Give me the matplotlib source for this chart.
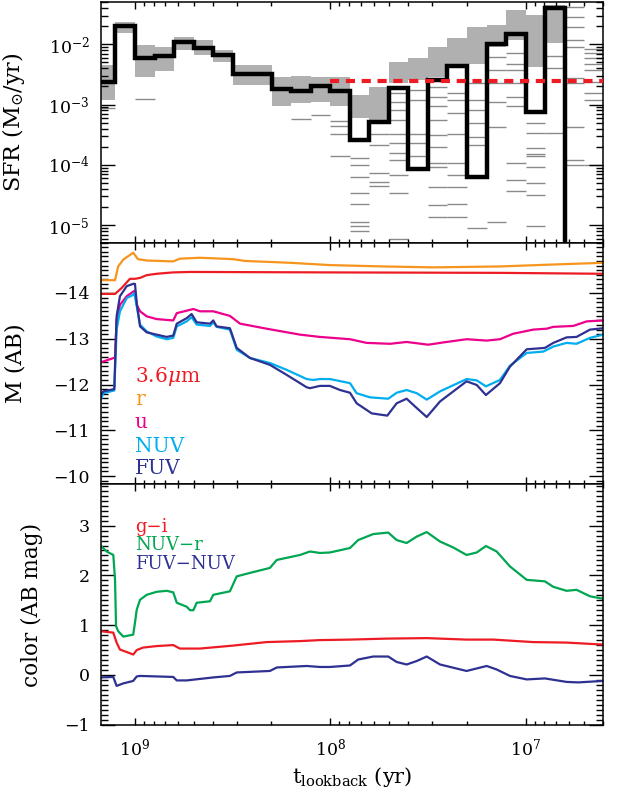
import matplotlib
matplotlib.use('Agg')
import matplotlib.pyplot as plt
from matplotlib.ticker import MultipleLocator, FixedLocator, LogLocator, NullFormatter
import numpy as np

plt.rcParams['font.family'] = ['DejaVu Serif']
plt.rcParams['mathtext.fontset'] = 'dejavuserif'

# ---- top panel: SFR history (log10 age bin edges, yr) ----
log_age_edges = [9.2, 9.1, 9.0, 8.9, 8.8, 8.7, 8.6, 8.5, 8.4, 8.3, 8.2, 8.1, 8.0,
                 7.9, 7.8, 7.7, 7.6, 7.5, 7.4, 7.3, 7.2, 7.1, 7.0, 6.9, 6.8, 6.7, 6.6]
sfr_best = [2.4e-3, 2.0e-2, 5.9e-3, 6.4e-3, 1.1e-2, 8.8e-3, 6.6e-3, 3.2e-3, 3.2e-3,
            1.8e-3, 1.7e-3, 2.0e-3, 1.7e-3, 2.6e-4, 5.2e-4, 1.9e-3, 8.7e-5, 2.6e-3,
            4.4e-3, 6.3e-5, 1.0e-2, 1.5e-2, 7.6e-4, 4.0e-2, 0.0, 0.0]
# dense range of the realisations (log10 SFR), None where sparse
band_lo = [-2.92, -1.82, -2.54, -2.45, -2.09, -2.18, -2.29, -2.67, -2.67, -3.03, -2.97,
           -2.95, -3.03, -3.22, -3.26, -2.65, -2.59, -2.54, -2.37, -2.32, -2.04, -1.93,
           -2.37, -1.98, None, None]
band_hi = [-2.34, -1.63, -2.01, -2.04, -1.88, -1.93, -2.09, -2.34, -2.34, -2.54, -2.53,
           -2.54, -2.54, -2.84, -2.70, -2.29, -2.23, -2.04, -1.90, -1.71, -1.68, -1.43,
           -1.51, -1.35, None, None]
# individual outlying realisations (log10 SFR)
sfr_outliers = [
    [-3.06], [], [-2.91], [], [], [], [], [], [], [], [-3.24], [-3.17],
    [-3.27, -3.35, -3.49, -3.86],
    [-3.88, -4.00, -4.20, -4.47, -4.65, -4.94, -5.02, -5.09],
    [-3.49, -3.67, -4.14, -4.28, -4.35],
    [-2.81, -2.95, -3.09, -3.26, -3.48, -3.64, -3.81, -3.92, -4.17, -4.47, -5.22],
    [-2.76, -2.93, -3.48, -3.64, -3.86],
    [-2.70, -2.87, -3.03, -3.26, -3.50, -3.70, -3.97, -4.03, -4.36, -4.67, -4.86],
    [-2.81, -2.92, -3.14, -3.48, -3.97, -4.17, -4.36, -4.65, -4.86],
    [-2.65, -2.92, -3.09, -3.31, -3.53, -3.67, -5.05],
    [-2.21, -2.43, -2.65, -2.95, -3.37, -4.94],
    [-2.15, -2.32, -2.43, -2.65, -2.87, -3.03, -3.97, -4.25, -4.44],
    [-3.31, -3.47, -3.72, -3.82, -3.86, -4.03, -4.30, -4.50, -5.02],
    [-2.20, -2.40, -3.47],
    [-1.38, -1.54, -1.71, -1.93, -2.04, -2.56, -2.65, -3.37, -3.92, -4.00],
    [-2.07, -2.15, -2.23, -2.32, -2.43, -2.62, -2.81, -2.92, -4.00],
]
sfr_mean_recent = 2.45e-3
recent_range = [1e8, 4e6]

# ---- middle panel: absolute magnitudes ----
r_logt = [9.179, 9.102, 9.086, 9.060, 9.009, 8.985, 8.940, 8.805, 8.770, 8.667, 8.498,
          8.437, 8.206, 8.002, 7.729, 7.474, 7.131, 6.875, 6.602]
r_mag = [-14.28, -14.28, -14.58, -14.73, -14.88, -14.74, -14.71, -14.69, -14.75, -14.77,
         -14.74, -14.70, -14.66, -14.61, -14.58, -14.56, -14.58, -14.62, -14.66]

irac_logt = [9.179, 9.102, 9.068, 9.026, 9.000, 8.974, 8.940, 8.889, 8.805, 8.718, 8.002,
             7.131, 6.602]
irac_mag = [-13.98, -13.98, -14.11, -14.31, -14.31, -14.33, -14.39, -14.42, -14.45, -14.46,
            -14.45, -14.44, -14.42]

u_logt = [9.179, 9.102, 9.094, 9.077, 9.042, 9.009, 9.000, 8.991, 8.974, 8.940, 8.889,
          8.804, 8.786, 8.701, 8.667, 8.599, 8.514, 8.462, 8.326, 8.155, 8.053, 7.899,
          7.814, 7.694, 7.609, 7.498, 7.421, 7.302, 7.199, 7.131, 7.063, 6.961, 6.892,
          6.858, 6.756, 6.687, 6.602]
u_mag = [-12.48, -12.59, -13.42, -13.74, -13.93, -14.03, -14.05, -13.74, -13.60, -13.49,
         -13.43, -13.40, -13.56, -13.65, -13.60, -13.60, -13.50, -13.33, -13.22, -13.09,
         -13.04, -12.99, -12.91, -12.89, -12.93, -12.87, -12.92, -12.99, -12.96, -12.99,
         -13.11, -13.20, -13.22, -13.26, -13.28, -13.38, -13.40]

nuv_logt = [9.179, 9.162, 9.106, 9.094, 9.077, 9.042, 9.009, 9.004, 8.991, 8.974, 8.940,
            8.889, 8.838, 8.804, 8.786, 8.735, 8.710, 8.684, 8.616, 8.599, 8.582, 8.514,
            8.479, 8.411, 8.309, 8.223, 8.121, 8.087, 8.053, 8.002, 7.899, 7.865, 7.797,
            7.703, 7.660, 7.609, 7.557, 7.506, 7.438, 7.302, 7.250, 7.203, 7.131, 7.080,
            6.994, 6.909, 6.858, 6.790, 6.739, 6.670, 6.602]
nuv_mag = [-11.63, -11.81, -11.87, -13.20, -13.60, -13.89, -13.96, -14.00, -13.71, -13.31,
           -13.16, -13.05, -12.99, -13.02, -13.27, -13.38, -13.47, -13.31, -13.28, -13.36,
           -13.26, -13.20, -12.76, -12.58, -12.47, -12.32, -12.12, -12.10, -12.12, -12.12,
           -12.03, -11.81, -11.72, -11.69, -11.82, -11.88, -11.81, -11.67, -11.85, -12.12,
           -12.09, -11.96, -12.10, -12.41, -12.69, -12.72, -12.83, -12.91, -12.89, -13.02,
           -13.09]

fuv_logt = [9.179, 9.162, 9.106, 9.094, 9.077, 9.042, 9.009, 9.000, 8.991, 8.974, 8.940,
            8.889, 8.838, 8.804, 8.786, 8.735, 8.710, 8.684, 8.616, 8.599, 8.582, 8.514,
            8.479, 8.411, 8.309, 8.223, 8.121, 8.104, 8.053, 8.002, 7.950, 7.899, 7.865,
            7.788, 7.708, 7.660, 7.609, 7.566, 7.506, 7.438, 7.302, 7.250, 7.203, 7.131,
            7.080, 6.994, 6.901, 6.858, 6.790, 6.739, 6.670, 6.602]
fuv_mag = [-11.74, -11.85, -11.90, -13.49, -13.93, -14.15, -14.20, -14.20, -13.78, -13.27,
           -13.14, -13.09, -13.04, -13.07, -13.33, -13.45, -13.54, -13.36, -13.33, -13.40,
           -13.27, -13.23, -12.80, -12.58, -12.43, -12.21, -11.94, -11.92, -11.97, -11.97,
           -11.88, -11.82, -11.59, -11.37, -11.32, -11.59, -11.69, -11.52, -11.29, -11.63,
           -12.07, -11.99, -11.77, -12.03, -12.39, -12.77, -12.80, -12.91, -13.03, -13.04,
           -13.20, -13.23]

# ---- bottom panel: colours ----
nuvr_logt = [9.179, 9.145, 9.111, 9.102, 9.097, 9.086, 9.060, 9.009, 9.000, 8.991, 8.974,
             8.940, 8.889, 8.838, 8.804, 8.786, 8.735, 8.718, 8.701, 8.684, 8.616, 8.599,
             8.514, 8.479, 8.411, 8.309, 8.274, 8.155, 8.104, 8.053, 8.002, 7.899, 7.857,
             7.780, 7.703, 7.660, 7.609, 7.557, 7.506, 7.438, 7.370, 7.302, 7.250, 7.203,
             7.148, 7.080, 6.994, 6.901, 6.858, 6.790, 6.739, 6.670, 6.602]
nuvr_col = [2.61, 2.48, 2.41, 1.91, 0.98, 0.88, 0.77, 0.81, 1.05, 1.31, 1.51, 1.61, 1.67,
            1.69, 1.66, 1.45, 1.37, 1.30, 1.30, 1.45, 1.48, 1.61, 1.68, 1.98, 2.05, 2.15,
            2.31, 2.41, 2.48, 2.45, 2.46, 2.55, 2.71, 2.83, 2.86, 2.71, 2.65, 2.78, 2.87,
            2.68, 2.56, 2.41, 2.46, 2.59, 2.48, 2.18, 1.91, 1.88, 1.77, 1.69, 1.71, 1.58,
            1.53]

gi_logt = [9.179, 9.111, 9.094, 9.077, 9.042, 9.009, 8.991, 8.958, 8.889, 8.804, 8.770,
           8.667, 8.497, 8.326, 8.155, 8.053, 7.899, 7.711, 7.506, 7.302, 7.165, 6.961,
           6.790, 6.602]
gi_col = [0.88, 0.85, 0.65, 0.51, 0.46, 0.41, 0.50, 0.55, 0.58, 0.60, 0.53, 0.53, 0.59,
          0.66, 0.68, 0.70, 0.71, 0.73, 0.74, 0.71, 0.71, 0.66, 0.65, 0.61]

fn_logt = [9.179, 9.111, 9.094, 9.060, 9.009, 8.991, 8.974, 8.804, 8.786, 8.735, 8.599,
           8.514, 8.479, 8.309, 8.274, 8.121, 8.053, 8.002, 7.899, 7.857, 7.780, 7.703,
           7.660, 7.609, 7.557, 7.506, 7.438, 7.302, 7.199, 7.148, 7.080, 6.994, 6.901,
           6.790, 6.731, 6.602]
fn_col = [-0.05, -0.04, -0.22, -0.17, -0.12, -0.03, -0.02, -0.04, -0.11, -0.11, -0.05,
          -0.02, 0.05, 0.08, 0.15, 0.18, 0.16, 0.16, 0.19, 0.31, 0.37, 0.37, 0.26, 0.21,
          0.28, 0.37, 0.21, 0.08, 0.18, 0.11, -0.02, -0.09, -0.07, -0.14, -0.15, -0.12]

mag_ticks = [-14, -13, -12, -11, -10]
color_ticks = [-1, 0, 1, 2, 3]

C_RED = '#ed1c24'
C_ORANGE = '#f7941d'
C_MAGENTA = '#ec008c'
C_CYAN = '#00aeef'
C_NAVY = '#2e3192'
C_GREEN = '#00a651'
C_GRAY = '#8a8a8a'


def minus_fmt(v, p):
    return f'\u2212{abs(v):.0f}' if v < 0 else f'{v:.0f}'


def style_axis(ax, minor_y=None):
    ax.tick_params(which='both', direction='in', top=True, right=True,
                   labelsize=12.5, pad=8, width=1.0, color='black')
    ax.tick_params(axis='y', which='major', length=10)
    ax.tick_params(axis='y', which='minor', length=5)
    ax.tick_params(axis='x', which='major', length=5)
    ax.tick_params(axis='x', which='minor', length=3)
    if minor_y is not None:
        ax.yaxis.set_minor_locator(MultipleLocator(minor_y))
    for sp in ax.spines.values():
        sp.set_linewidth(1.1)


fig = plt.figure(figsize=(6.18, 7.93), dpi=100)
left, width = 0.1631, 0.8131
ax1 = fig.add_axes([left, 0.6939, width, 0.3035])
ax2 = fig.add_axes([left, 0.3893, width, 0.3047], sharex=ax1)
ax3 = fig.add_axes([left, 0.0861, width, 0.3032], sharex=ax1)

t_edges = 10.0 ** np.array(log_age_edges)

# top panel
for i in range(len(sfr_best)):
    t0, t1 = t_edges[i], t_edges[i + 1]
    if band_lo[i] is not None:
        ax1.fill_between([t0, t1], 10 ** band_lo[i], 10 ** band_hi[i],
                         color='#b0b0b0', lw=0, zorder=1)
    if sfr_outliers[i]:
        ax1.hlines(10.0 ** np.array(sfr_outliers[i]), t0, t1, color=C_GRAY, lw=1.0, zorder=1)
sfr_plot = np.where(np.array(sfr_best) > 0, sfr_best, 1e-12)
ax1.stairs(sfr_plot, t_edges, color='black', lw=3.2, baseline=None, zorder=3)
ax1.hlines(sfr_mean_recent, recent_range[0], recent_range[1], color=C_RED, lw=3,
           linestyles=(0, (2.2, 1.6)), zorder=4)
ax1.set_xscale('log')
ax1.set_yscale('log')
ax1.set_ylim(10 ** -5.29, 10 ** -1.30)
ax1.yaxis.set_minor_locator(LogLocator(base=10, subs=np.arange(2, 10), numticks=20))
ax1.yaxis.set_minor_formatter(NullFormatter())
ax1.set_ylabel(r'SFR (M$_{\odot}$/yr)', fontsize=16)
ax1.yaxis.set_label_coords(-0.147, 0.5)
style_axis(ax1)

# middle panel
ax2.plot(10.0 ** np.array(irac_logt), irac_mag, color=C_RED, lw=1.6)
ax2.plot(10.0 ** np.array(r_logt), r_mag, color=C_ORANGE, lw=1.6)
ax2.plot(10.0 ** np.array(u_logt), u_mag, color=C_MAGENTA, lw=1.6)
ax2.plot(10.0 ** np.array(nuv_logt), nuv_mag, color=C_CYAN, lw=1.6)
ax2.plot(10.0 ** np.array(fuv_logt), fuv_mag, color=C_NAVY, lw=1.6)
ax2.set_ylim(-9.82, -15.1)
ax2.yaxis.set_major_locator(FixedLocator(mag_ticks))
ax2.yaxis.set_major_formatter(minus_fmt)
ax2.set_ylabel('M (AB)', fontsize=16)
ax2.yaxis.set_label_coords(-0.147, 0.5)
style_axis(ax2, minor_y=0.1)
labels_mid = [(r'3.6$\mu$m', C_RED, 0.445), ('r', C_ORANGE, 0.349), ('u', C_MAGENTA, 0.254),
              ('NUV', C_CYAN, 0.156), ('FUV', C_NAVY, 0.067)]
for txt, col, yy in labels_mid:
    ax2.text(0.068, yy, txt, color=col, fontsize=14.5, transform=ax2.transAxes, va='center')

# bottom panel
ax3.plot(10.0 ** np.array(gi_logt), gi_col, color=C_RED, lw=1.6)
ax3.plot(10.0 ** np.array(nuvr_logt), nuvr_col, color=C_GREEN, lw=1.6)
ax3.plot(10.0 ** np.array(fn_logt), fn_col, color=C_NAVY, lw=1.6)
ax3.set_ylim(-1.0, 3.83)
ax3.yaxis.set_major_locator(FixedLocator(color_ticks))
ax3.yaxis.set_major_formatter(minus_fmt)
ax3.set_ylabel('color (AB mag)', fontsize=15.5)
ax3.yaxis.set_label_coords(-0.115, 0.5)
style_axis(ax3, minor_y=0.1)
labels_bot = [('g\u2212i', C_RED, 0.824), ('NUV\u2212r', C_GREEN, 0.748),
              ('FUV\u2212NUV', C_NAVY, 0.668)]
for txt, col, yy in labels_bot:
    ax3.text(0.068, yy, txt, color=col, fontsize=13, transform=ax3.transAxes, va='center')

ax1.set_xlim(10 ** 9.175, 10 ** 6.602)
ax1.xaxis.set_minor_formatter(NullFormatter())
ax3.set_xlabel(r't$_{\rm lookback}$ (yr)', fontsize=15)
ax3.xaxis.set_label_coords(0.5, -0.168)
plt.setp(ax1.get_xticklabels(), visible=False)
plt.setp(ax2.get_xticklabels(), visible=False)
ax3.tick_params(axis='x', pad=9)

fig.savefig('out.png', dpi=100)
